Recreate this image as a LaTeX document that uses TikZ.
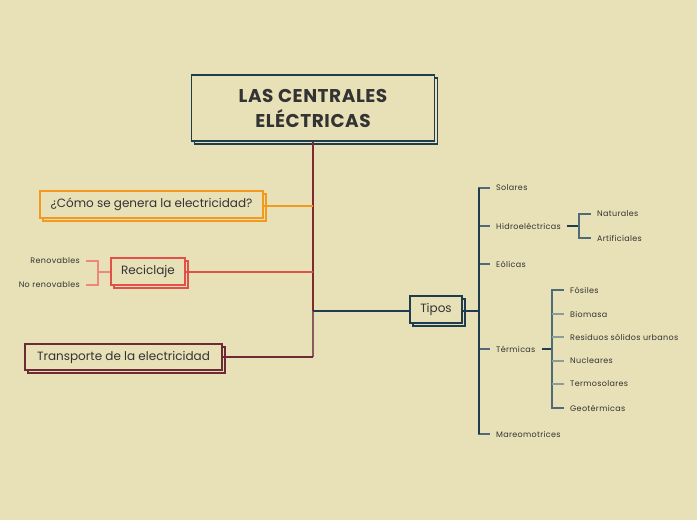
\documentclass[tikz,border=0pt]{standalone}
\usepackage{fontspec}
\setmainfont{Poppins}
\newfontfamily\titlefont[LetterSpace=3]{Poppins}
\newfontfamily\leaffont[LetterSpace=4]{Poppins}
\usetikzlibrary{shadows}
\definecolor{bg}{HTML}{E8E0B7}
\definecolor{txt}{HTML}{333333}
\definecolor{teal}{HTML}{1E3D4F}
\definecolor{tealmid}{HTML}{4F6B7A}
\definecolor{teallight}{HTML}{8A9C9C}
\definecolor{orng}{HTML}{F39A1E}
\definecolor{redc}{HTML}{E0514B}
\definecolor{salmon}{HTML}{EB8A7A}
\definecolor{maroon}{HTML}{6E2B35}
\definecolor{trunk}{HTML}{7F2A2E}
\definecolor{trunkb}{HTML}{8A5A60}
\begin{document}
\begin{tikzpicture}[x=1pt,y=-1pt,
  box/.style={draw,line width=1.3pt,fill=bg,text=txt,inner sep=0pt,
    copy shadow={shadow xshift=3pt,shadow yshift=-3pt}},
  leaf/.style={anchor=west,inner sep=0pt,inner xsep=6pt,text=txt,font=\leaffont\fontsize{8}{9}\selectfont},
  leafl/.style={anchor=east,inner sep=0pt,inner xsep=6pt,text=txt,font=\leaffont\fontsize{8}{9}\selectfont},
  ln/.style={line width=1.2pt}]
\fill[bg] (0,0) rectangle (697,520);
\useasboundingbox (0,0) rectangle (697,520);

% main boxes
\node[box,draw=teal,minimum width=243pt,minimum height=66pt,align=center,
  font=\titlefont\bfseries\fontsize{18.5}{25}\selectfont] (title) at (313,108) {LAS CENTRALES\\ELÉCTRICAS};
\node[box,draw=orng,minimum width=223pt,minimum height=27pt,font=\fontsize{12}{14}\selectfont] (como) at (151.5,204.5) {¿Cómo se genera la electricidad?};
\node[box,draw=redc,minimum width=74pt,minimum height=27pt,font=\fontsize{12}{14}\selectfont] (recic) at (148,271.5) {Reciclaje};
\node[box,draw=maroon,minimum width=197pt,minimum height=26pt,font=\fontsize{12}{14}\selectfont] (transp) at (123.5,357) {Transporte de la electricidad};
\node[box,draw=teal,minimum width=52pt,minimum height=27pt,font=\fontsize{12}{14}\selectfont] (tipos) at (436,309.5) {Tipos};

% trunk
\coordinate (jc) at (313,206);
\coordinate (jr) at (313,272);
\coordinate (jt) at (313,311);
\coordinate (jtr) at (313,357);
\draw[trunk,ln] (title.south) -- (jt);
\draw[trunkb,ln] (jt) -- (jtr);
\draw[orng,ln] (jc) -- (como.east |- jc);
\draw[redc,ln] (jr) -- (recic.east |- jr);
\draw[maroon,ln] (jtr) -- (transp.east |- jtr);
\draw[teal,ln] (jt) -- (tipos.west |- jt);

% reciclaje children
\node[leafl] (ren) at (86,261) {Renovables};
\node[leafl] (noren) at (86,285) {No renovables};
\coordinate (rb) at (98,272);
\draw[salmon,ln] (recic.west |- rb) -- (rb);
\draw[salmon,ln] (ren.east) -| (rb) |- (noren.east);

% tipos children
\coordinate (tb) at (479,311);
\draw[teal,ln] (tipos.east |- tb) -- (tb);
\node[leaf] (sol) at (490,188) {Solares};
\node[leaf] (hid) at (490,226) {Hidroeléctricas};
\node[leaf] (eol) at (490,264) {Eólicas};
\node[leaf] (ter) at (490,349) {Térmicas};
\node[leaf] (mar) at (490,434) {Mareomotrices};
\draw[tealmid,ln] (sol.west) -| (tb) |- (mar.west);
\draw[tealmid,ln] (tb |- hid) -- (hid.west);
\draw[tealmid,ln] (tb |- eol) -- (eol.west);
\draw[tealmid,ln] (tb |- ter) -- (ter.west);
\draw[teal,ln] (tb |- sol) -- (tb |- mar);

% hidro children
\coordinate (hb) at (579,226);
\node[leaf] (nat) at (591,214) {Naturales};
\node[leaf] (art) at (591,238) {Artificiales};
\draw[teal,ln] (hid.east) -- (hb);
\draw[tealmid,ln] (nat.west) -| (hb) |- (art.west);

% termicas children
\coordinate (tmb) at (552,349);
\node[leaf] (fos) at (564,290) {Fósiles};
\node[leaf] (bio) at (564,314) {Biomasa};
\node[leaf] (res) at (564,337) {Residuos sólidos urbanos};
\node[leaf] (nuc) at (564,361) {Nucleares};
\node[leaf] (tso) at (564,384) {Termosolares};
\node[leaf] (geo) at (564,408) {Geotérmicas};
\draw[teal,ln] (ter.east) -- (tmb);
\draw[tealmid,ln] (fos.west) -| (tmb) |- (geo.west);
\foreach \n in {bio,res,nuc,tso}
  \draw[teallight,ln] (tmb |- \n) -- (\n.west);
\end{tikzpicture}
\end{document}
